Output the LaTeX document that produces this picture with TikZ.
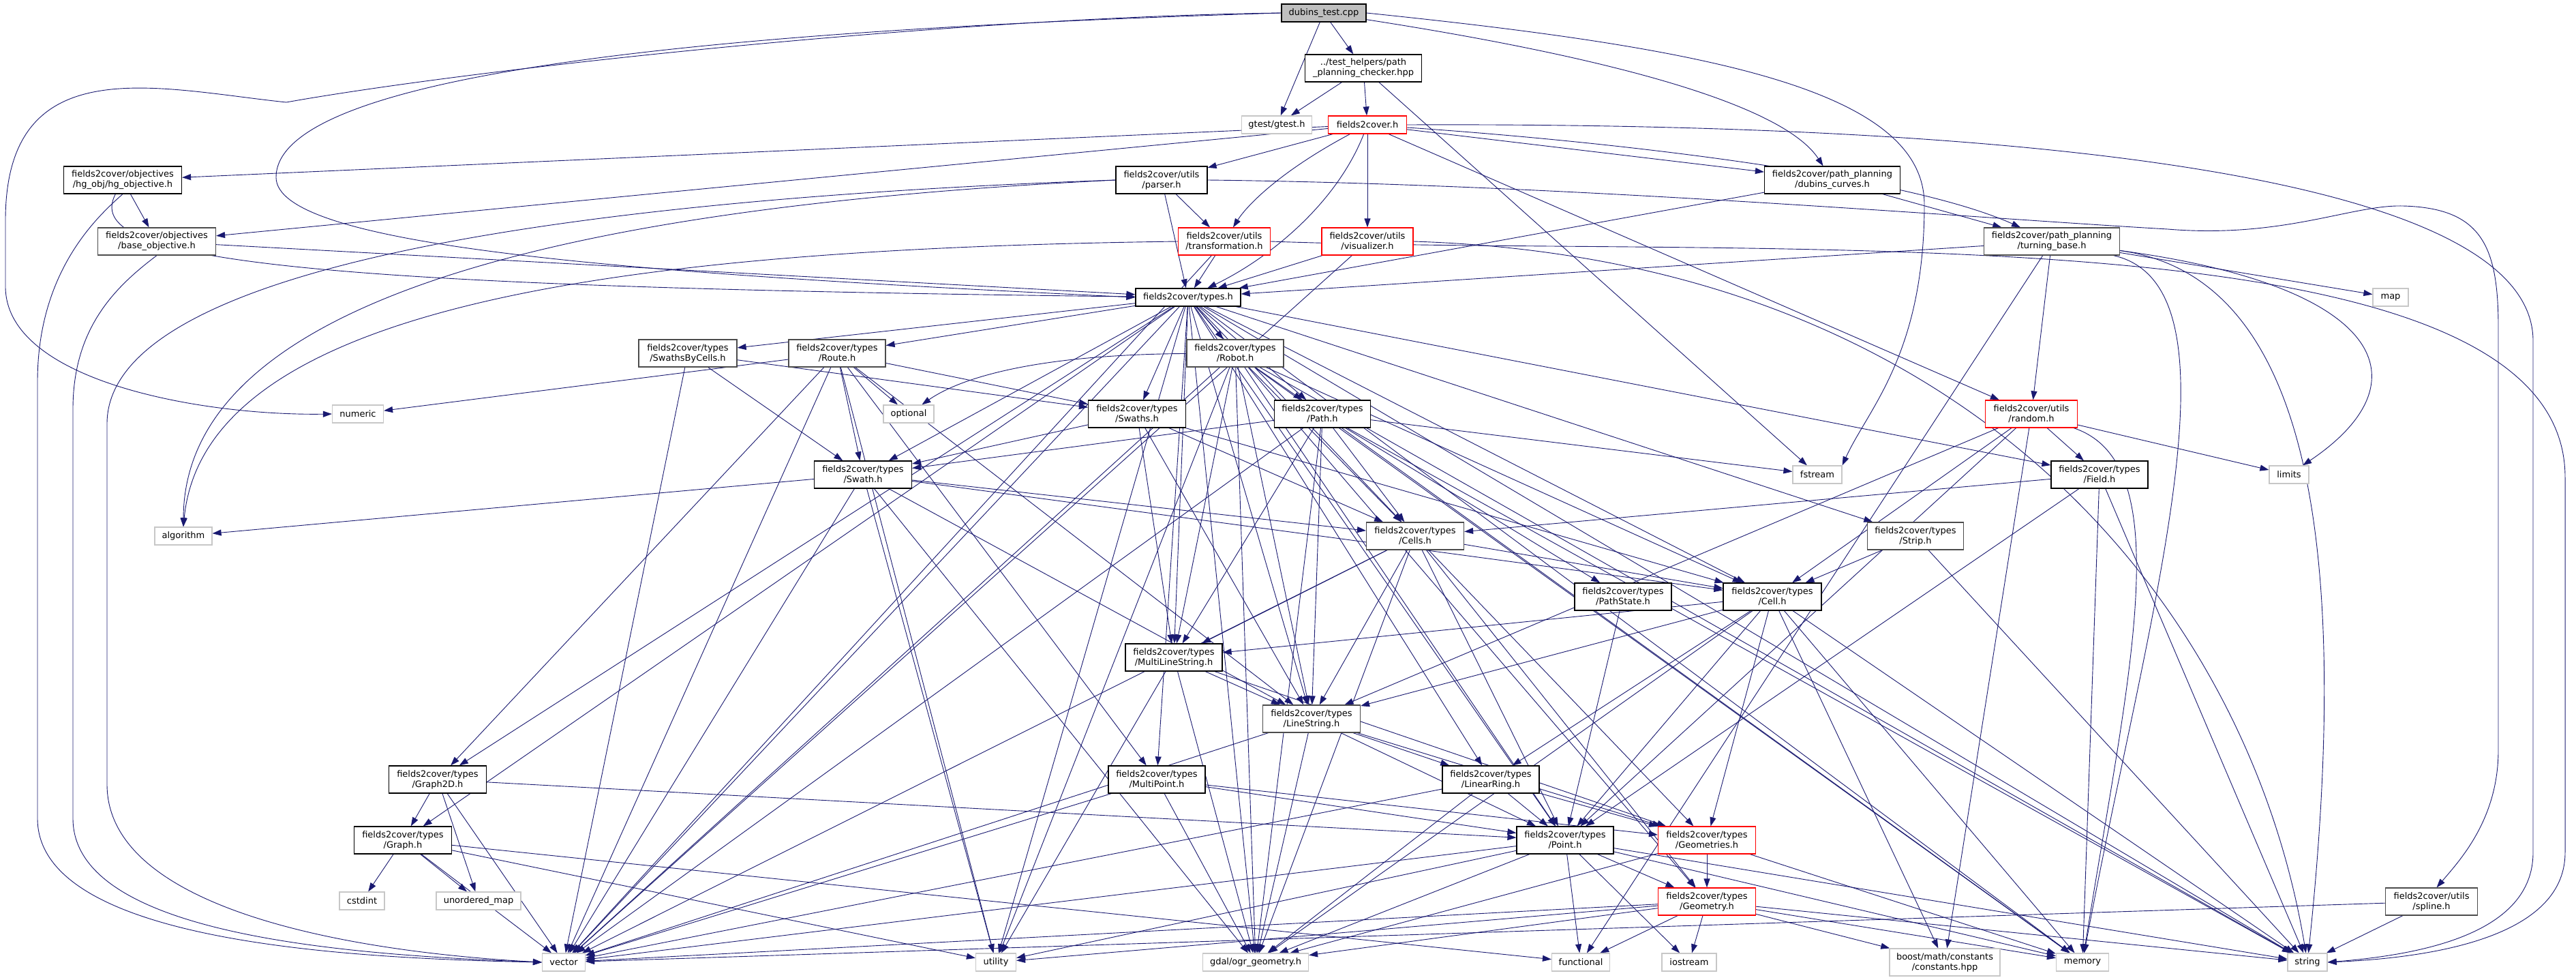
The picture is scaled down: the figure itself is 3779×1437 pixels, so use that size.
\documentclass[tikz,border=0pt]{standalone}
\usepackage{fontspec}
\setmainfont{DejaVu Sans}
\usetikzlibrary{arrows.meta}
\definecolor{edgeblue}{HTML}{191970}
\pgfdeclarelayer{edges}
\pgfsetlayers{edges,main}

\begin{document}
\begin{tikzpicture}[
    x=1pt, y=-1pt,
    hdr/.style={rectangle, draw=black, fill=white, line width=1.2pt, align=center, inner sep=0pt, minimum height=40pt, font=\fontsize{13}{15}\selectfont},
    hdrgray/.style={hdr, draw=black!70},
    hdrred/.style={hdr, draw=red},
    one/.style={minimum height=26pt},
    sys/.style={hdr, draw=black!22, minimum height=26pt},
    srcfile/.style={hdr, fill=black!25, minimum height=26pt},
    arr/.style={-{Triangle[length=13pt,width=9pt]}, draw=edgeblue, line width=0.9pt}
]
\useasboundingbox (0,0) rectangle (3779,1437);

% Test file and helpers
\node[srcfile, minimum width=124pt] (dt) at (1942,19) {dubins\_test.cpp};
\node[hdr, minimum width=171pt] (checker) at (2000,100) {../test\_helpers/path\\\_planning\_checker.hpp};
\node[sys, minimum width=103pt] (gtest) at (1873,183) {gtest/gtest.h};
\node[hdrred, one, minimum width=115pt] (ftc) at (2006,183) {fields2cover.h};

% Objectives, utils, path planning
\node[hdr, minimum width=173pt] (hgobj) at (180,264) {fields2cover/objectives\\/hg\_obj/hg\_objective.h};
\node[hdr, minimum width=134pt] (parser) at (1704,264) {fields2cover/utils\\/parser.h};
\node[hdr, minimum width=199pt] (dubins) at (2688,264) {fields2cover/path\_planning\\/dubins\_curves.h};
\node[hdrgray, minimum width=173pt] (baseobj) at (230,354) {fields2cover/objectives\\/base\_objective.h};
\node[hdrred, minimum width=135pt] (transf) at (1796,354) {fields2cover/utils\\/transformation.h};
\node[hdrred, minimum width=134pt] (visual) at (2006,354) {fields2cover/utils\\/visualizer.h};
\node[hdrgray, minimum width=199pt] (turning) at (3010,354) {fields2cover/path\_planning\\/turning\_base.h};
\node[hdrred, minimum width=135pt] (random) at (2980,607) {fields2cover/utils\\/random.h};
\node[hdrgray, minimum width=135pt] (spline) at (3567,1322) {fields2cover/utils\\/spline.h};

% Types
\node[hdr, one, minimum width=154pt] (types) at (1743,436) {fields2cover/types.h};
\node[hdrgray, minimum width=144pt] (sbc) at (1009,518) {fields2cover/types\\/SwathsByCells.h};
\node[hdrgray, minimum width=142pt] (route) at (1228,518) {fields2cover/types\\/Route.h};
\node[hdrgray, minimum width=142pt] (robot) at (1812,518) {fields2cover/types\\/Robot.h};
\node[hdr, minimum width=143pt] (swaths) at (1668,607) {fields2cover/types\\/Swaths.h};
\node[hdr, minimum width=141pt] (path) at (1940,607) {fields2cover/types\\/Path.h};
\node[hdr, minimum width=143pt] (swath) at (1266,696) {fields2cover/types\\/Swath.h};
\node[hdr, minimum width=142pt] (field) at (3080,696) {fields2cover/types\\/Field.h};
\node[hdrgray, minimum width=143pt] (cells) at (2076,786) {fields2cover/types\\/Cells.h};
\node[hdrgray, minimum width=141pt] (strip) at (2810,786) {fields2cover/types\\/Strip.h};
\node[hdr, minimum width=142pt] (pathstate) at (2381,875) {fields2cover/types\\/PathState.h};
\node[hdr, minimum width=144pt] (cell) at (2600,875) {fields2cover/types\\/Cell.h};
\node[hdr, minimum width=142pt] (mls) at (1722,964) {fields2cover/types\\/MultiLineString.h};
\node[hdrgray, minimum width=143pt] (linestring) at (1924,1054) {fields2cover/types\\/LineString.h};
\node[hdr, minimum width=143pt] (graphtwod) at (642,1143) {fields2cover/types\\/Graph2D.h};
\node[hdr, minimum width=142pt] (multipoint) at (1697,1143) {fields2cover/types\\/MultiPoint.h};
\node[hdr, minimum width=142pt] (linearring) at (2187,1143) {fields2cover/types\\/LinearRing.h};
\node[hdr, minimum width=143pt] (graph) at (591,1232) {fields2cover/types\\/Graph.h};
\node[hdr, minimum width=142pt] (point) at (2296,1232) {fields2cover/types\\/Point.h};
\node[hdrred, minimum width=143pt] (geometries) at (2504,1232) {fields2cover/types\\/Geometries.h};
\node[hdrred, minimum width=143pt] (geometry) at (2504,1322) {fields2cover/types\\/Geometry.h};

% System headers
\node[sys, minimum width=52pt] (map) at (3507,436) {map};
\node[sys, minimum width=75pt] (numeric) at (525,607) {numeric};
\node[sys, minimum width=74pt] (optional) at (1333,607) {optional};
\node[sys, minimum width=72pt] (fstream) at (2666,696) {fstream};
\node[sys, minimum width=58pt] (limits) at (3358,696) {limits};
\node[sys, minimum width=84pt] (algorithm) at (269,786) {algorithm};
\node[sys, minimum width=66pt] (cstdint) at (531,1321) {cstdint};
\node[sys, minimum width=124pt] (umap) at (702,1321) {unordered\_map};
\node[sys, minimum width=63pt] (vector) at (827,1411) {vector};
\node[sys, minimum width=59pt] (utility) at (1461,1411) {utility};
\node[sys, minimum width=155pt] (gdal) at (1842,1411) {gdal/ogr\_geometry.h};
\node[sys, minimum width=85pt] (functional) at (2319,1411) {functional};
\node[sys, minimum width=80pt] (iostream) at (2478,1411) {iostream};
\node[sys, minimum width=162pt, minimum height=40pt] (boost) at (2853,1411) {boost/math/constants\\/constants.hpp};
\node[sys, minimum width=77pt] (memory) at (3055,1411) {memory};
\node[sys, minimum width=58pt] (string) at (3385,1411) {string};

\begin{pgfonlayer}{edges}
% dubins_test.cpp
\draw[arr] (dt) -- (gtest);
\draw[arr] (dt) -- (checker);
\draw[arr] (dt) .. controls (2400,90) and (2620,160) .. (dubins);
\draw[arr] (dt.west) .. controls (1400,25) and (700,100) .. (420,150) .. controls (230,130) and (10,70) .. (8,320) -- (8,420) .. controls (8,560) and (300,610) .. (numeric.west);
\draw[arr] (dt.west) .. controls (1200,40) and (405,90) .. (405,260) .. controls (405,360) and (900,400) .. (types.west);
\draw[arr] (dt.east) .. controls (2500,70) and (2823,130) .. (2823,300) .. controls (2823,520) and (2740,600) .. (fstream.north east);

% path_planning_checker.hpp
\draw[arr] (checker) -- (gtest);
\draw[arr] (checker) -- (ftc);
\draw[arr] (checker) -- (fstream);

% fields2cover.h
\draw[arr] (ftc) -- (hgobj);
\draw[arr] (ftc) -- (baseobj);
\draw[arr] (ftc) -- (parser);
\draw[arr] (ftc) .. controls (1880,250) and (1830,300) .. (transf);
\draw[arr] (ftc) -- (visual);
\draw[arr] (ftc) .. controls (1960,300) and (1860,380) .. (types);
\draw[arr] (ftc) -- (random);
\draw[arr] (ftc) -- (dubins);
\draw[arr] (ftc) .. controls (2400,210) and (2800,260) .. (turning);
\draw[arr] (ftc.east) .. controls (2800,180) and (3716,230) .. (3716,500) -- (3716,1250) .. controls (3716,1370) and (3550,1400) .. (string.east);

% objectives
\draw[arr] (hgobj) -- (baseobj);
\draw[arr] (hgobj) .. controls (120,380) and (400,420) .. (types);
\draw[arr] (hgobj.south) .. controls (140,320) and (55,400) .. (55,560) -- (55,1200) .. controls (55,1380) and (500,1405) .. (vector.west);
\draw[arr] (baseobj) -- (types);
\draw[arr] (baseobj.south) .. controls (170,420) and (107,480) .. (107,600) -- (107,1200) .. controls (107,1370) and (500,1400) .. (vector.west);

% utils
\draw[arr] (parser) -- (transf);
\draw[arr] (parser) -- (types);
\draw[arr] (parser.west) .. controls (900,290) and (160,380) .. (157,620) -- (157,1150) .. controls (157,1330) and (500,1395) .. (vector.west);
\draw[arr] (parser.west) .. controls (900,300) and (270,420) .. (algorithm.north);
\draw[arr] (parser.east) .. controls (2300,270) and (2900,320) .. (3180,336) .. controls (3350,350) and (3450,300) .. (3525,302) .. controls (3640,305) and (3665,360) .. (3665,480) -- (3665,1100) .. controls (3665,1200) and (3610,1260) .. (spline.70);
\draw[arr] (transf) -- (types);
\draw[arr] (transf.west) .. controls (900,365) and (300,450) .. (algorithm.north);
\draw[arr] (transf) -- (vector);
\draw[arr] (transf.east) .. controls (2600,380) and (3763,300) .. (3763,700) -- (3763,1250) .. controls (3763,1380) and (3550,1405) .. (string.east);
\draw[arr] (visual) -- (types);
\draw[arr] (visual) -- (vector);
\draw[arr] (visual.east) .. controls (2900,380) and (3300,900) .. (string);

% path planning
\draw[arr] (dubins) -- (turning);
\draw[arr] (dubins) -- (types);
\draw[arr] (turning) -- (types);
\draw[arr] (turning) -- (random);
\draw[arr] (turning) -- (map);
\draw[arr] (turning) .. controls (3500,420) and (3560,560) .. (limits);
\draw[arr] (turning) .. controls (3300,420) and (3150,900) .. (memory);
\draw[arr] (turning) .. controls (3350,400) and (3460,700) .. (string);
\draw[arr] (turning) -- (functional);

% types.h
\draw[arr] (types) -- (sbc);
\draw[arr] (types) -- (route);
\draw[arr] (types) -- (robot);
\draw[arr] (types) -- (swaths);
\draw[arr] (types) -- (swath);
\draw[arr] (types) -- (path);
\draw[arr] (types) -- (cells);
\draw[arr] (types) -- (cell);
\draw[arr] (types) -- (strip);
\draw[arr] (types) -- (field);
\draw[arr] (types) -- (mls);
\draw[arr] (types) -- (linestring);
\draw[arr] (types) -- (linearring);
\draw[arr] (types) -- (multipoint);
\draw[arr] (types) -- (point);
\draw[arr] (types) -- (geometry);
\draw[arr] (types) -- (graphtwod);
\draw[arr] (types) -- (graph);
\draw[arr] (types) -- (vector);
\draw[arr] (types) -- (utility);
\draw[arr] (types) -- (gdal);
\draw[arr] (types) -- (memory);
\draw[arr] (types) -- (string);

% SwathsByCells.h
\draw[arr] (sbc) -- (swaths);
\draw[arr] (sbc) -- (swath);
\draw[arr] (sbc) -- (vector);

% Route.h
\draw[arr] (route) -- (swaths);
\draw[arr] (route) -- (swath);
\draw[arr] (route) -- (optional);
\draw[arr] (route) -- (numeric);
\draw[arr] (route) -- (vector);
\draw[arr] (route) -- (graphtwod);
\draw[arr] (route) -- (linestring);
\draw[arr] (route) -- (multipoint);
\draw[arr] (route) -- (utility);

% Robot.h
\draw[arr] (robot) -- (path);
\draw[arr] (robot) .. controls (1500,520) and (1400,560) .. (optional);
\draw[arr] (robot) -- (vector);
\draw[arr] (robot) -- (gdal);
\draw[arr] (robot) -- (utility);
\draw[arr] (robot) -- (mls);
\draw[arr] (robot) -- (linestring);
\draw[arr] (robot) -- (cells);
\draw[arr] (robot) -- (cell);
\draw[arr] (robot) -- (point);
\draw[arr] (robot) -- (string);
\draw[arr] (robot) -- (memory);

% Swaths.h
\draw[arr] (swaths) -- (swath);
\draw[arr] (swaths) -- (cells);
\draw[arr] (swaths) -- (cell);
\draw[arr] (swaths) -- (mls);
\draw[arr] (swaths) -- (linestring);

% Swath.h
\draw[arr] (swath) -- (algorithm);
\draw[arr] (swath) -- (cells);
\draw[arr] (swath) -- (cell);
\draw[arr] (swath) -- (vector);
\draw[arr] (swath) -- (utility);
\draw[arr] (swath) -- (gdal);
\draw[arr] (swath) -- (linestring);

% Path.h
\draw[arr] (path) -- (fstream);
\draw[arr] (path) -- (swath);
\draw[arr] (path) -- (pathstate);
\draw[arr] (path) -- (mls);
\draw[arr] (path) -- (linestring);
\draw[arr] (path) -- (vector);
\draw[arr] (path) -- (gdal);
\draw[arr] (path) -- (string);
\draw[arr] (path) -- (memory);
\draw[arr] (path) -- (cells);

% Cells.h
\draw[arr] (cells) -- (cell);
\draw[arr] (cells) -- (linestring);
\draw[arr] (cells) -- (mls);
\draw[arr] (cells) -- (point);
\draw[arr] (cells) -- (geometries);
\draw[arr] (cells) -- (gdal);
\draw[arr] (cells) -- (vector);
\draw[arr] (cells) -- (geometry);

% Cell.h
\draw[arr] (cell) -- (mls);
\draw[arr] (cell) -- (linestring);
\draw[arr] (cell) -- (linearring);
\draw[arr] (cell) -- (point);
\draw[arr] (cell) -- (geometries);
\draw[arr] (cell) -- (gdal);
\draw[arr] (cell) -- (boost);
\draw[arr] (cell) -- (string);
\draw[arr] (cell) -- (memory);

% PathState.h, Strip.h, Field.h
\draw[arr] (pathstate) -- (point);
\draw[arr] (strip) -- (cell);
\draw[arr] (strip) -- (string);
\draw[arr] (field) -- (cells);
\draw[arr] (field) -- (point);
\draw[arr] (field) -- (memory);
\draw[arr] (field) -- (string);

% random.h
\draw[arr] (random) -- (field);
\draw[arr] (random) -- (limits);
\draw[arr] (random) -- (cell);
\draw[arr] (random) -- (linestring);
\draw[arr] (random) -- (point);
\draw[arr] (random) -- (boost);
\draw[arr] (random) .. controls (3200,680) and (3120,1000) .. (memory);

% MultiLineString.h, LineString.h
\draw[arr] (mls) -- (linestring);
\draw[arr] (mls) -- (gdal);
\draw[arr] (mls) -- (utility);
\draw[arr] (mls) -- (geometries);
\draw[arr] (linestring) -- (point);
\draw[arr] (linestring) -- (linearring);
\draw[arr] (linestring) -- (geometries);
\draw[arr] (linestring) -- (gdal);
\draw[arr] (linestring) -- (vector);

% Graph2D.h, Graph.h
\draw[arr] (graphtwod) -- (graph);
\draw[arr] (graphtwod) -- (umap);
\draw[arr] (graphtwod) -- (vector);
\draw[arr] (graphtwod) -- (point);
\draw[arr] (graph) -- (cstdint);
\draw[arr] (graph) -- (umap);
\draw[arr] (graph) -- (vector);
\draw[arr] (graph) -- (utility);
\draw[arr] (graph) -- (functional);

% MultiPoint.h, LinearRing.h
\draw[arr] (multipoint) -- (point);
\draw[arr] (multipoint) -- (geometries);
\draw[arr] (multipoint) -- (gdal);
\draw[arr] (multipoint) -- (vector);
\draw[arr] (linearring) -- (point);
\draw[arr] (linearring) -- (geometries);
\draw[arr] (linearring) -- (gdal);
\draw[arr] (linearring) -- (vector);

% Point.h
\draw[arr] (point) -- (geometry);
\draw[arr] (point) -- (vector);
\draw[arr] (point) -- (utility);
\draw[arr] (point) -- (gdal);
\draw[arr] (point) -- (functional);
\draw[arr] (point) -- (iostream);
\draw[arr] (point) -- (memory);
\draw[arr] (point) -- (string);

% Geometries.h, Geometry.h
\draw[arr] (geometries) -- (geometry);
\draw[arr] (geometries) -- (gdal);
\draw[arr] (geometries) -- (memory);
\draw[arr] (geometry) -- (gdal);
\draw[arr] (geometry) -- (boost);
\draw[arr] (geometry) -- (memory);
\draw[arr] (geometry) -- (string);
\draw[arr] (geometry) -- (functional);
\draw[arr] (geometry) -- (iostream);
\draw[arr] (geometry) -- (vector);
\draw[arr] (geometry) -- (utility);

% spline.h
\draw[arr] (spline) -- (string);
\draw[arr] (spline) -- (vector);
\end{pgfonlayer}

\end{tikzpicture}
\end{document}
